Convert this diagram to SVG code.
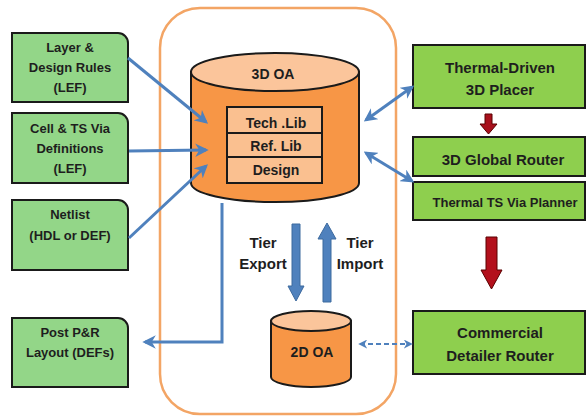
<svg xmlns="http://www.w3.org/2000/svg" width="586" height="416" viewBox="0 0 586 416">
<defs>
<style>
.lbox{fill:#93d688;stroke:#1a1a1a;stroke-width:2}
.rbox{fill:#8ecf4e;stroke:#1a1a1a;stroke-width:2}
.t{font-family:"Liberation Sans",Arial,sans-serif;font-weight:bold;fill:#1e1e1e;text-anchor:middle}
.conn{fill:none;stroke:#4f81bd;stroke-width:3}
.cyl{fill:#f79646;stroke:#1a1a1a;stroke-width:2}
.cyltop{fill:#fbc59b;stroke:#1a1a1a;stroke-width:2}
.cell{fill:#fac090;stroke:#1a1a1a;stroke-width:2}
</style>
<marker id="ah" viewBox="0 0 10 10" refX="8" refY="5" markerWidth="4.5" markerHeight="4.5" orient="auto-start-reverse" markerUnits="strokeWidth">
<path d="M0,0 L10,5 L0,10 L3,5 Z" fill="#4f81bd"/>
</marker>
</defs>
<rect id="container" x="160" y="8" width="236" height="406" rx="40" fill="none" stroke="#f3a565" stroke-width="2.5"/>

<g id="layer-rules">
<path class="lbox" d="M12,33 H118 A10,10 0 0 1 128,43 V102 H12 Z"/>
<text class="t" font-size="13" x="70" y="52">Layer &amp;</text>
<text class="t" font-size="13" x="70" y="72">Design Rules</text>
<text class="t" font-size="13" x="70" y="92">(LEF)</text>
</g>
<g id="cell-via">
<path class="lbox" d="M12,113 H118 A10,10 0 0 1 128,123 V183 H12 Z"/>
<text class="t" font-size="13" x="70" y="133">Cell &amp; TS Via</text>
<text class="t" font-size="13" x="70" y="153">Definitions</text>
<text class="t" font-size="13" x="70" y="173">(LEF)</text>
</g>
<g id="netlist">
<path class="lbox" d="M12,200 H118 A10,10 0 0 1 128,210 V270 H12 Z"/>
<text class="t" font-size="13" x="70" y="219">Netlist</text>
<text class="t" font-size="13" x="70" y="240">(HDL or DEF)</text>
</g>
<g id="post-pr">
<path class="lbox" d="M12,318 H118 A10,10 0 0 1 128,328 V387 H12 Z"/>
<text class="t" font-size="13" x="70" y="337">Post P&amp;R</text>
<text class="t" font-size="13" x="70" y="357">Layout (DEFs)</text>
</g>

<g id="oa3d">
<path class="cyl" d="M191,72 V183 A84,19 0 0 0 359,183 V72 Z"/>
<ellipse class="cyltop" cx="275" cy="72" rx="84" ry="19"/>
<text class="t" font-size="14" x="273" y="79">3D OA</text>
<rect class="cell" x="227" y="107" width="95" height="26"/>
<rect class="cell" x="227" y="133" width="95" height="24"/>
<rect class="cell" x="227" y="157" width="95" height="26"/>
<text class="t" font-size="14" x="276" y="128">Tech .Lib</text>
<text class="t" font-size="14" x="276" y="151">Ref. Lib</text>
<text class="t" font-size="14" x="276" y="175">Design</text>
</g>

<g id="tier-labels">
<text class="t" font-size="15" x="263" y="248">Tier</text>
<text class="t" font-size="15" x="263" y="269">Export</text>
<text class="t" font-size="15" x="360" y="248">Tier</text>
<text class="t" font-size="15" x="360" y="269">Import</text>
</g>

<g id="oa2d">
<path class="cyl" d="M271,321 V377 A40,10 0 0 0 351,377 V321 Z"/>
<ellipse class="cyltop" cx="311" cy="321" rx="40" ry="10"/>
<text class="t" font-size="14" x="312" y="357">2D OA</text>
</g>

<g id="placer">
<rect class="rbox" x="413" y="45" width="172" height="63"/>
<text class="t" font-size="15" x="500" y="73">Thermal-Driven</text>
<text class="t" font-size="15" x="500" y="95">3D Placer</text>
</g>
<g id="global-router">
<rect class="rbox" x="413" y="137" width="172" height="39"/>
<text class="t" font-size="15" x="503" y="165">3D Global Router</text>
</g>
<g id="ts-via-planner">
<rect class="rbox" x="413" y="182" width="172" height="38"/>
<text class="t" font-size="13" x="505" y="207">Thermal TS Via Planner</text>
</g>
<g id="detailer">
<rect class="rbox" x="413" y="311" width="172" height="63"/>
<text class="t" font-size="15" x="500" y="338">Commercial</text>
<text class="t" font-size="15" x="500" y="361">Detailer Router</text>
</g>

<g id="connectors">
<path class="conn" d="M128,58 L206,122" marker-end="url(#ah)"/>
<path class="conn" d="M129,151 L206,150" marker-end="url(#ah)"/>
<path class="conn" d="M129,238 L206,166" marker-end="url(#ah)"/>
<path class="conn" d="M222,203 V342 H145" marker-end="url(#ah)"/>
<path class="conn" d="M366,120 L412,87" marker-start="url(#ah)" marker-end="url(#ah)"/>
<path class="conn" d="M366,153 L412,181" marker-start="url(#ah)" marker-end="url(#ah)"/>
<path d="M360,344 H411" fill="none" stroke="#4f81bd" stroke-width="2" stroke-dasharray="5,3" marker-start="url(#ah)" marker-end="url(#ah)"/>
<path d="M292,224 H300 V286 H304 L296,301 L288,286 H292 Z" fill="#4f81bd" stroke="#3d6a9e" stroke-width="1"/>
<path d="M323,302 H331 V239 H336 L327,223 L318,239 H323 Z" fill="#4f81bd" stroke="#3d6a9e" stroke-width="1"/>
<path d="M485,114 H492 V124 H497 L488.5,134 L480,124 H485 Z" fill="#a8101c" stroke="#5a0000" stroke-width="1"/>
<path d="M486,237 H497 V270 H502 L491.5,289 L481,270 H486 Z" fill="#b3101c" stroke="#5a0000" stroke-width="1"/>
</g>
</svg>
